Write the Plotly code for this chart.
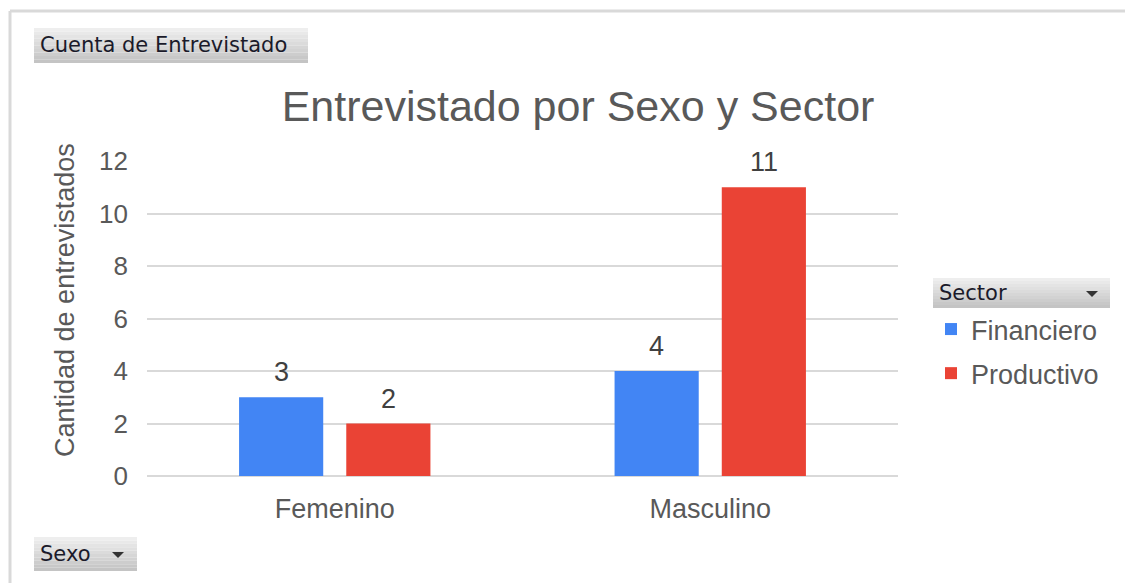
import plotly.graph_objects as go

# ---- data ----
categories = ["Femenino", "Masculino"]
series_names = ["Financiero", "Productivo"]
financiero = [3, 4]
productivo = [2, 11]
y_ticks = [0, 2, 4, 6, 8, 10, 12]
colors = ["#4285F4", "#EA4335"]

W, H = 1125, 583
L, R, T, B = 147, 898, 161, 476  # plot area in px


def px(x):
    return (x - L) / (R - L)


def py(y):
    return (B - y) / (B - T)


fig = go.Figure()
for name, vals, col in zip(series_names, [financiero, productivo], colors):
    fig.add_trace(go.Bar(
        x=categories, y=vals, name=name, marker=dict(color=col, line=dict(width=0)),
        legendgroup=name, hoverinfo="x+y+name",
    ))

# data labels
slot_half = 53.5
for i, vals in enumerate([financiero, productivo]):
    shift = -slot_half if i == 0 else slot_half
    for c, v in zip(categories, vals):
        fig.add_annotation(x=c, y=v, text=str(v), showarrow=False, xshift=shift, yshift=25,
                           yanchor="middle", font=dict(family="Liberation Sans", size=27, color="#404040"))

shapes = []
# outer frame lines
shapes.append(dict(type="line", xref="paper", yref="paper", x0=px(10), x1=px(W + 5), y0=py(11), y1=py(11),
                   line=dict(color="#d9d9d9", width=3)))
shapes.append(dict(type="line", xref="paper", yref="paper", x0=px(10), x1=px(10), y0=py(11), y1=py(H + 5),
                   line=dict(color="#d9d9d9", width=3)))


def button(x0, y0, x1, y1, text, arrow_x=None, size=21):
    n = 10
    top = (238, 238, 238)
    bot = (196, 196, 196)
    for k in range(n):
        t = k / (n - 1)
        c = tuple(int(top[j] + (bot[j] - top[j]) * t) for j in range(3))
        ya = y0 + (y1 - y0) * k / n
        yb = y0 + (y1 - y0) * (k + 1) / n
        shapes.append(dict(type="rect", xref="paper", yref="paper", x0=px(x0), x1=px(x1), y0=py(ya), y1=py(yb),
                           fillcolor="rgb(%d,%d,%d)" % c, line=dict(width=0), layer="below"))
    fig.add_annotation(xref="paper", yref="paper", x=px(x0 + 4), y=py((y0 + y1) / 2), text=text, showarrow=False,
                       xanchor="left", yanchor="middle",
                       font=dict(family="DejaVu Sans", size=size, color="#1a1a2a"))
    if arrow_x is not None:
        yc = (y0 + y1) / 2
        path = "M %f %f L %f %f L %f %f Z" % (px(arrow_x - 6), py(yc - 2), px(arrow_x + 6), py(yc - 2),
                                              px(arrow_x), py(yc + 4))
        shapes.append(dict(type="path", xref="paper", yref="paper", path=path, fillcolor="#333333",
                           line=dict(width=0)))


button(34, 28, 308, 63, "Cuenta de Entrevistado")
button(34, 537, 137, 571, "Sexo", arrow_x=118)
button(933, 278, 1110, 308, "Sector", arrow_x=1092)

# y axis title
fig.add_annotation(xref="paper", yref="paper", x=px(65), y=py(300), text="Cantidad de entrevistados",
                   textangle=-90, showarrow=False, xanchor="center", yanchor="middle",
                   font=dict(family="Liberation Sans", size=27, color="#595959"))

fig.update_layout(
    width=W, height=H,
    margin=dict(l=L, r=W - R, t=T, b=H - B, pad=0),
    paper_bgcolor="white", plot_bgcolor="white",
    barmode="group", bargap=0.429, bargroupgap=0.215,
    title=dict(text="Entrevistado por Sexo y Sector", x=578 / W, xanchor="center", xref="container",
               y=1 - 106 / H, yanchor="middle", yref="container",
               font=dict(family="Liberation Sans", size=43, color="#595959")),
    showlegend=True,
    legend=dict(x=px(931), y=py(305), xanchor="left", yanchor="top", traceorder="grouped",
                tracegroupgap=6, bgcolor="rgba(0,0,0,0)",
                font=dict(family="Liberation Sans", size=27, color="#595959")),
    shapes=shapes,
    font=dict(family="Liberation Sans"),
)
fig.update_xaxes(showgrid=False, showline=False, ticks="", ticklabelstandoff=14,
                 tickfont=dict(family="Liberation Sans", size=27, color="#595959"))
fig.update_yaxes(range=[0, 12], tickvals=y_ticks, showgrid=True, gridcolor="#d9d9d9", gridwidth=2,
                 zeroline=True, zerolinecolor="#d9d9d9", zerolinewidth=2, showline=False, ticks="",
                 ticklabelstandoff=18, tickfont=dict(family="Liberation Sans", size=26, color="#595959"))

fig.write_html("out.html", config={"displayModeBar": False},
               post_script="document.body.style.margin='0';document.body.style.overflow='hidden';")
